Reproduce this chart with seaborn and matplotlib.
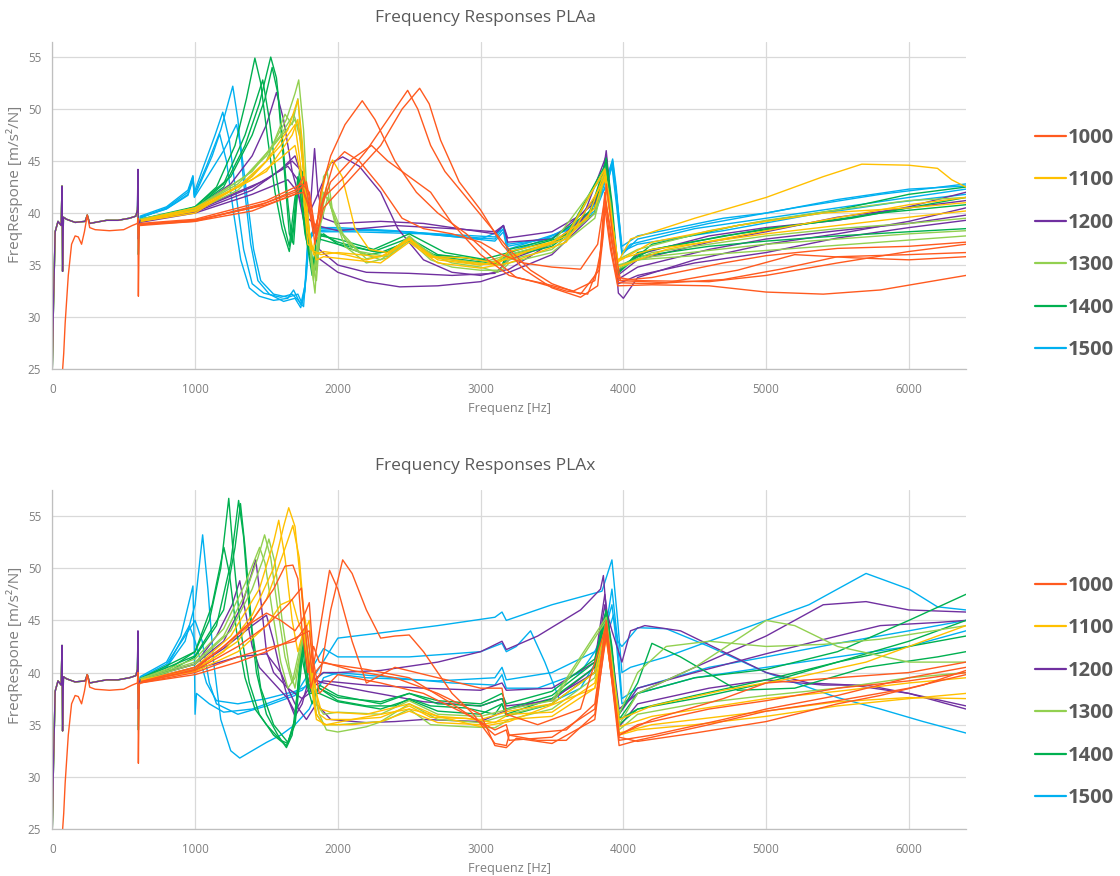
import matplotlib
matplotlib.use("Agg")
import matplotlib.pyplot as plt
from matplotlib.lines import Line2D
from matplotlib.font_manager import FontProperties
import pandas as pd
import seaborn as sns

# ---------------------------------------------------------------- data
speeds = ["1000", "1100", "1200", "1300", "1400", "1500"]
speed_colors = ["#FF5A1F", "#FFC000", "#7030A0", "#92D050", "#00B050", "#00B0F0"]
draw_order = ["1500", "1200", "1400", "1300", "1100", "1000"]
low_order = ["1500", "1400", "1300", "1100", "1200", "1000"]

x_ticks = [0, 1000, 2000, 3000, 4000, 5000, 6000]
y_ticks = [25, 30, 35, 40, 45, 50, 55]

# common low-frequency start (0-615 Hz); 600 Hz spike inserted per speed
low_freq = [0, 8, 20, 40, 62, 68, 72, 78, 100, 160, 230, 245, 262, 300, 380, 460,
            540, 585, 596, 600, 603, 609, 615]
low_resp_head = [25, 31, 38.2, 39.2, 38.8, 42.6, 34.4, 39.6, 39.4, 39.1, 39.2, 39.8,
                 39.0, 39.1, 39.3, 39.3, 39.5, 39.7, 40.3]
low_resp_tail = [39.0, 39.3]

# the 1000 runs start late
late_freq = [70, 80, 90, 112, 135, 160, 182, 205, 225, 245, 262, 300, 400, 500, 560,
             596, 600, 603, 609, 615]
late_resp_head = [24.5, 26.5, 29.4, 34.0, 37.0, 37.8, 37.7, 37.0, 38.2, 39.8, 38.6,
                  38.4, 38.3, 38.4, 38.8, 39.0]
late_resp_tail = [38.8, 39.0]

# 600 Hz resonance: (peak, trough)
plaa_spike = {"1000": (39.5, 32.0), "1100": (41.0, 38.0), "1200": (44.2, 37.5),
              "1300": (42.0, 38.0), "1400": (41.0, 36.0), "1500": (43.0, 39.0)}
plax_spike = {"1000": (40.0, 31.3), "1100": (41.5, 38.0), "1200": (44.0, 36.5),
              "1300": (42.5, 38.0), "1400": (43.5, 34.5), "1500": (42.5, 38.5)}

# ---------------- PLAa runs: (frequency Hz, response m/s²/N)
plaa_1000 = [
    [(615, 38.9), (1000, 39.2), (1400, 40.2), (1700, 41.8), (1780, 43), (1820, 40), (1850, 37.5),
     (1900, 41.5), (1970, 44.8), (2047, 45.9), (2150, 45), (2300, 42.5), (2450, 39.5), (2600, 38.5),
     (2800, 38), (3000, 37.2), (3150, 36), (3300, 35.2), (3500, 34.8), (3700, 34.6), (3820, 37),
     (3870, 41.5), (3910, 38.5), (3960, 33.8), (4100, 33.5), (4600, 33.4), (5000, 34), (5500, 35.2),
     (6000, 36.3), (6400, 37)],
    [(615, 38.9), (1000, 39.3), (1400, 40.5), (1700, 42), (1760, 43.5), (1800, 41), (1840, 37),
     (1880, 42), (1950, 45.5), (2050, 48.5), (2171, 50.8), (2260, 49), (2400, 45), (2550, 42),
     (2700, 40), (2900, 38), (3100, 35.5), (3250, 33.8), (3450, 33.2), (3650, 32.5), (3800, 33.5),
     (3850, 37), (3875, 41), (3910, 37), (3960, 33.3), (4200, 33.2), (4700, 33.6), (5100, 34.6),
     (5500, 35.8), (6000, 36), (6400, 36.2)],
    [(615, 38.8), (1000, 39.2), (1500, 41), (1750, 42.5), (1790, 41), (1830, 38), (1870, 40),
     (1950, 43), (2100, 45.2), (2236, 46.5), (2350, 45), (2500, 43.5), (2650, 42), (2800, 39),
     (3000, 36), (3200, 34), (3400, 33.3), (3600, 32.5), (3750, 32.2), (3830, 35), (3870, 40.5),
     (3910, 36.5), (3960, 33), (4200, 33.1), (4600, 33), (5000, 32.4), (5400, 32.2), (5800, 32.6),
     (6100, 33.3), (6400, 34)],
    [(615, 39), (1000, 39.4), (1500, 41.2), (1750, 42.8), (1800, 42), (1840, 38.5), (1900, 41.5),
     (2050, 43.5), (2200, 46), (2350, 49), (2489, 51.8), (2560, 50), (2650, 46.5), (2750, 44),
     (2900, 41.5), (3050, 39), (3200, 36.5), (3350, 34.5), (3500, 33.2), (3700, 32.2), (3830, 34.5),
     (3870, 42), (3920, 37), (3970, 33.5), (4200, 33.8), (4700, 35.2), (5000, 35.9), (5500, 36.6),
     (6000, 36.8), (6400, 37.2)],
    [(615, 38.9), (1000, 39.3), (1500, 40.8), (1700, 41.8), (1760, 42), (1810, 40), (1850, 37.8),
     (1900, 40.5), (2100, 43.5), (2300, 46.5), (2450, 50), (2573, 52), (2640, 50.5), (2720, 47),
     (2850, 43), (3000, 40.3), (3150, 37), (3300, 34.6), (3500, 32.8), (3700, 31.9), (3820, 33),
     (3860, 38), (3880, 42.8), (3930, 37.5), (3980, 33.5), (4300, 33.3), (4800, 34.5), (5200, 36),
     (5600, 35.7), (6000, 35.5), (6400, 35.8)],
]
plaa_1100 = [
    [(615, 39.3), (1000, 40.3), (1300, 42.5), (1500, 45), (1650, 48), (1720, 50.9), (1750, 47),
     (1790, 39), (1830, 36), (1900, 36.3), (2050, 36), (2200, 35.5), (2350, 36), (2500, 37.5),
     (2650, 35.8), (2900, 35.7), (3100, 35.2), (3200, 36.3), (3500, 37.2), (3750, 39.5), (3870, 44),
     (3910, 40.5), (3960, 35.2), (4050, 37.5), (4500, 39.5), (5000, 41.5), (5400, 43.5),
     (5670, 44.7), (6000, 44.6), (6200, 44.3), (6300, 43.2), (6400, 42.5)],
    [(615, 39.2), (1000, 40), (1400, 43.5), (1600, 46.5), (1700, 48.5), (1740, 44.5), (1790, 37),
     (1830, 36.5), (1880, 41.5), (1920, 44), (1963, 45.1), (2030, 43.5), (2120, 38.5), (2220, 36.5),
     (2350, 36.2), (2500, 37.6), (2650, 35.8), (2900, 35.3), (3100, 35), (3200, 35.8), (3600, 37.5),
     (3800, 40.5), (3870, 43.5), (3960, 35.5), (4200, 36.5), (5000, 38), (5500, 38.8), (6000, 39.6),
     (6400, 40.2)],
    [(615, 39.3), (1000, 40.5), (1400, 43.2), (1600, 45.3), (1700, 46.5), (1750, 43), (1800, 37.5),
     (1850, 35.5), (1900, 35.8), (2100, 35.5), (2300, 35.2), (2500, 37.2), (2700, 35.2),
     (3000, 34.7), (3200, 35.2), (3600, 37.2), (3870, 43.2), (3960, 34.8), (4300, 36.5),
     (5000, 38.3), (5600, 39.8), (6000, 40.8), (6400, 41.5)],
    [(615, 39.2), (1000, 40.2), (1500, 44), (1680, 47.5), (1720, 49), (1760, 44), (1810, 36.5),
     (1880, 36), (2000, 36.2), (2300, 35.8), (2500, 37.4), (2700, 35.5), (3000, 35), (3200, 35.6),
     (3600, 37.8), (3870, 44.2), (3960, 35.3), (4200, 37.2), (4800, 38.8), (5400, 40), (6000, 40.5),
     (6400, 41)],
]
plaa_1200 = [
    [(615, 39.3), (1000, 40.4), (1250, 42.8), (1400, 45.5), (1500, 48.5), (1570, 51.6), (1620, 49),
     (1680, 44), (1730, 41.5), (1780, 39.5), (1810, 41), (1837, 46.2), (1860, 42), (1900, 39.5),
     (2000, 39), (2300, 39.2), (2600, 39), (2900, 38.4), (3100, 38), (3160, 38.8), (3190, 37.6),
     (3500, 38.2), (3700, 39.8), (3840, 42), (3880, 46), (3920, 40), (3965, 32.3), (4000, 31.8),
     (4100, 33.8), (4500, 35.5), (5000, 37), (5500, 38), (6000, 39.2), (6400, 40.5)],
    [(615, 39.3), (1000, 40.1), (1400, 42.2), (1600, 44.2), (1700, 45.5), (1760, 43), (1800, 40),
     (1850, 41.5), (1950, 44.8), (2034, 45.4), (2150, 44.5), (2300, 42), (2420, 38.5), (2600, 35.5),
     (2800, 34.3), (3000, 34), (3200, 34.6), (3400, 36.3), (3700, 39), (3880, 45.5), (3920, 40),
     (3965, 33.2), (4100, 34), (4500, 35.2), (5000, 36.2), (5500, 37.6), (6000, 38.6), (6400, 39.3)],
    [(615, 39.1), (1000, 40), (1400, 41.8), (1650, 43.2), (1720, 42), (1780, 38), (1850, 35.8),
     (2000, 34.3), (2200, 33.4), (2434, 32.9), (2700, 33), (3000, 33.4), (3200, 34.3), (3500, 36),
     (3800, 40), (3880, 45), (3960, 34), (4100, 35.5), (4600, 37.2), (5000, 38.2), (5500, 39.6),
     (6000, 40.5), (6400, 41.2)],
    [(615, 39.2), (1000, 40.2), (1400, 42.5), (1650, 44.5), (1730, 43), (1790, 39.5), (1850, 38.8),
     (2000, 38.3), (2400, 38.8), (2800, 38.5), (3100, 38.2), (3160, 38.8), (3190, 37.2), (3500, 37.5),
     (3800, 41), (3880, 45.3), (3960, 34.3), (4100, 36), (4600, 37.8), (5000, 38.6), (5500, 39.3),
     (6000, 40.6), (6400, 42)],
    [(615, 39.2), (1000, 40.3), (1500, 43.2), (1680, 45), (1750, 44), (1800, 40.5), (1870, 36.5),
     (2000, 35), (2200, 34.3), (2500, 34.2), (2800, 34), (3100, 34.2), (3200, 35.5), (3500, 37),
     (3800, 40.5), (3880, 45.3), (3960, 33.6), (4100, 34.8), (4600, 36.5), (5000, 37.5),
     (5500, 38.3), (6000, 39), (6400, 39.8)],
]
plaa_1300 = [
    [(615, 39.4), (1000, 40.4), (1300, 42.8), (1500, 45.5), (1640, 49), (1700, 51.5), (1726, 52.8),
     (1760, 48), (1790, 40), (1815, 35), (1840, 32.3), (1865, 38), (1900, 43.5), (1925, 44),
     (1960, 40.5), (2050, 37.5), (2200, 35.6), (2350, 36), (2500, 37.8), (2650, 36), (2800, 35.2),
     (3000, 34.8), (3120, 34.3), (3200, 35.5), (3500, 36.5), (3800, 40), (3870, 44), (3910, 41),
     (3960, 34.6), (4100, 35.5), (4600, 36), (5000, 36.4), (5500, 36.9), (6000, 37.4), (6400, 37.8)],
    [(615, 39.3), (1000, 40.2), (1300, 42.2), (1500, 45), (1630, 49.5), (1680, 48.5), (1720, 51),
     (1750, 46), (1790, 39), (1830, 33.5), (1860, 37), (1900, 42), (1940, 41), (2050, 36.8),
     (2200, 35.2), (2350, 35.7), (2500, 37.4), (2650, 35.5), (2800, 34.8), (3000, 34.5),
     (3150, 34.5), (3200, 35.2), (3500, 36.2), (3800, 39.5), (3870, 43.5), (3960, 35), (4200, 35.8),
     (5000, 37), (5500, 37.5), (6000, 38), (6400, 38.3)],
    [(615, 39.4), (1000, 40.5), (1350, 43.5), (1550, 46.5), (1700, 49), (1740, 47), (1780, 41),
     (1830, 34), (1870, 38.5), (1920, 42.5), (1980, 39), (2100, 36.5), (2300, 35.5), (2500, 37.5),
     (2700, 35.7), (3000, 35), (3200, 35.8), (3500, 37), (3870, 43.8), (3960, 35.5), (4100, 36.5),
     (4600, 38.3), (5000, 39.3), (5500, 40.3), (6000, 41.2), (6400, 41.5)],
    [(615, 39.3), (1000, 40.3), (1400, 44), (1600, 47.5), (1690, 49.5), (1730, 48), (1770, 43),
     (1810, 36), (1850, 33.5), (1880, 39), (1930, 41.5), (2000, 38.5), (2150, 36.3), (2350, 35.8),
     (2500, 37.6), (2650, 35.8), (3000, 35.2), (3200, 36), (3600, 37.5), (3870, 44.3), (3960, 34.8),
     (4200, 36.2), (5000, 37.8), (5500, 38.5), (6000, 39), (6400, 39.5)],
]
plaa_1400 = [
    [(615, 39.4), (800, 39.8), (1000, 40.6), (1150, 42.5), (1280, 46.5), (1360, 51), (1419, 54.9),
     (1460, 52.5), (1510, 47), (1560, 42), (1610, 38.5), (1660, 36.3), (1690, 39), (1720, 43.5),
     (1745, 41), (1780, 37.5), (1820, 34), (1850, 37.5), (1900, 38), (2000, 37), (2200, 36),
     (2350, 36.3), (2500, 37.5), (2650, 36), (2900, 35.7), (3100, 35.2), (3200, 36), (3500, 37),
     (3750, 39.5), (3870, 44.5), (3900, 42), (3960, 34.5), (4100, 35.8), (4600, 36.8), (5000, 37.3),
     (5500, 37.8), (6000, 38.2), (6400, 38.5)],
    [(615, 39.4), (800, 39.9), (1000, 40.5), (1200, 42.5), (1350, 46.5), (1450, 50.5), (1530, 55),
     (1570, 53), (1610, 47.5), (1650, 41), (1680, 37.2), (1710, 41), (1735, 44.5), (1760, 40),
     (1800, 36.5), (1840, 34.5), (1880, 37.8), (2000, 37.5), (2250, 36.5), (2500, 38), (2750, 36.2),
     (3000, 35.6), (3150, 35), (3200, 36.5), (3500, 37.5), (3800, 40.5), (3880, 45.3), (3920, 41),
     (3965, 34.2), (4100, 36.2), (4700, 37.8), (5200, 38.8), (5800, 40), (6400, 40.8)],
    [(615, 39.3), (1000, 40.4), (1200, 42.8), (1350, 47.5), (1474, 52.8), (1520, 49), (1570, 43.5),
     (1620, 39), (1660, 36.8), (1700, 41.5), (1730, 43), (1770, 38), (1820, 35), (1870, 37.5),
     (2000, 37), (2300, 36.2), (2500, 37.3), (2700, 35.8), (3000, 35.3), (3150, 35), (3200, 35.8),
     (3500, 36.8), (3800, 40), (3870, 44), (3960, 34.8), (4200, 36.5), (5000, 38.5), (5600, 39.5),
     (6400, 41.5)],
    [(615, 39.4), (1000, 40.6), (1250, 43.5), (1400, 47.5), (1490, 51), (1540, 54), (1580, 51.5),
     (1620, 45), (1660, 38), (1690, 37), (1720, 42.5), (1750, 44), (1790, 38.5), (1830, 34.8),
     (1880, 38), (2000, 37.2), (2250, 36.3), (2500, 37.6), (2700, 36), (3000, 35.5), (3200, 36.2),
     (3600, 37.8), (3880, 44.8), (3960, 34.2), (4200, 37), (4800, 38.8), (5500, 40.3), (6000, 41.8),
     (6400, 42.5)],
]
plaa_1500 = [
    [(615, 39.6), (800, 40.4), (950, 41.8), (985, 43.4), (995, 41.6), (1050, 43.3), (1120, 45.5),
     (1172, 47.6), (1220, 45), (1270, 40), (1320, 35.5), (1380, 32.8), (1450, 32), (1550, 31.6),
     (1650, 31.8), (1690, 32.6), (1740, 31.2), (1770, 33), (1790, 37.5), (1830, 38.3), (2000, 38.4),
     (2500, 38.2), (2800, 37.8), (3100, 37.5), (3160, 38.5), (3190, 36.5), (3300, 37), (3600, 38.3),
     (3800, 40), (3900, 43.5), (3925, 45), (3950, 42), (3990, 36.2), (4050, 37), (4500, 38.5),
     (5000, 39.5), (5500, 40.5), (6000, 41.5), (6400, 42.3)],
    [(615, 39.7), (800, 40.6), (950, 42.2), (985, 43.6), (995, 42), (1060, 44.5), (1140, 47.5),
     (1194, 49.7), (1240, 47), (1290, 41.5), (1340, 36.5), (1400, 33.2), (1480, 32.3), (1600, 31.9),
     (1680, 32.2), (1730, 31.5), (1760, 31), (1790, 36.5), (1830, 38.6), (2000, 38.6), (2400, 38.3),
     (2900, 37.6), (3100, 37.3), (3160, 38.2), (3190, 36.2), (3400, 37.2), (3700, 39), (3880, 42.5),
     (3920, 44.5), (3950, 41), (3990, 36), (4100, 37.5), (4600, 39), (5200, 40.5), (5800, 41.8),
     (6400, 42.8)],
    [(615, 39.5), (800, 40.5), (950, 42), (985, 43.5), (995, 41.8), (1080, 44.5), (1180, 48),
     (1264, 52.2), (1300, 49), (1340, 43), (1390, 37), (1440, 33.5), (1520, 32.2), (1620, 31.5),
     (1700, 31.8), (1740, 30.9), (1770, 32.5), (1790, 37.2), (1840, 38.2), (2100, 38.2), (2600, 38),
     (3000, 37.5), (3160, 38.4), (3190, 36.8), (3450, 37.5), (3750, 39.5), (3900, 44), (3925, 45.2),
     (3950, 42.5), (3990, 36.3), (4100, 37), (4700, 38.3), (5300, 39.8), (5900, 41), (6400, 41.8)],
    [(615, 39.6), (800, 40.4), (950, 41.7), (985, 43.2), (995, 41.5), (1100, 43.8), (1200, 46),
     (1290, 48.5), (1320, 46.5), (1360, 42), (1410, 36.5), (1460, 33.5), (1550, 32.2), (1650, 31.9),
     (1720, 32.2), (1750, 31.3), (1780, 34), (1800, 37.8), (1850, 38.5), (2200, 38.4), (2700, 38),
     (3100, 37.7), (3160, 38.8), (3190, 37), (3500, 37.6), (3800, 40.2), (3920, 44.8), (3950, 42),
     (3990, 36.8), (4100, 37.8), (4700, 39.5), (5000, 40), (5500, 41.3), (6000, 42.3), (6400, 42.6)],
]

# ---------------- PLAx runs
plax_1000 = [
    [(615, 39), (1000, 39.8), (1300, 41), (1500, 42), (1700, 43.3), (1800, 44), (1840, 39),
     (1880, 40), (1950, 46), (2034, 50.8), (2100, 49.5), (2200, 46), (2300, 43.3), (2400, 43.5),
     (2500, 43.6), (2600, 42), (2700, 40), (2800, 38), (2950, 36), (3100, 33.2), (3180, 33),
     (3200, 34), (3400, 33.5), (3600, 33.5), (3800, 36), (3880, 43.5), (3970, 33.8), (4100, 33.4),
     (4500, 34.2), (5000, 35.3), (5500, 37), (5800, 37.8), (6100, 38.8), (6400, 40.2)],
    [(615, 39), (1000, 40), (1300, 41.5), (1550, 42.5), (1700, 43), (1780, 44.5), (1820, 40),
     (1860, 43), (1942, 49.8), (2000, 48), (2100, 43), (2200, 39), (2400, 40.5), (2700, 39.5),
     (3000, 38.5), (3150, 38.5), (3180, 36), (3400, 35), (3700, 36.5), (3880, 44.5), (3970, 34),
     (4100, 35), (4600, 36.5), (5000, 37.3), (5500, 38.5), (6000, 39.2), (6400, 40)],
    [(615, 39.1), (1000, 40.5), (1200, 42.5), (1400, 45), (1550, 48), (1630, 50.2), (1685, 50.3),
     (1720, 49), (1750, 44), (1790, 40), (1830, 42.5), (1870, 41), (1950, 40.8), (2200, 40.3),
     (2500, 39.5), (2800, 37), (3000, 35.2), (3100, 34), (3180, 34.5), (3200, 33.5), (3500, 33.8),
     (3800, 36.5), (3880, 45), (3970, 33.5), (4200, 34), (4700, 35.5), (5000, 36.5), (5500, 37.8),
     (6000, 39.5), (6400, 40.5)],
    [(615, 39.1), (1000, 40.2), (1300, 42.5), (1500, 44.5), (1650, 46.5), (1745, 48.1), (1780, 43),
     (1810, 38.5), (1840, 40), (1900, 41), (2100, 40.2), (2400, 39.5), (2700, 38), (3000, 36),
     (3100, 33), (3180, 32.8), (3250, 33.7), (3500, 33.2), (3800, 35.5), (3880, 44), (3970, 33),
     (4100, 33.5), (4600, 35), (5000, 36.3), (5500, 37.3), (6000, 38.5), (6400, 39.8)],
    [(615, 39), (1000, 40.3), (1200, 42.5), (1400, 44.8), (1500, 45.7), (1600, 45), (1700, 44),
     (1750, 45), (1800, 46.7), (1830, 41), (1870, 38), (2000, 39.8), (2300, 39), (2600, 38),
     (2900, 36), (3100, 34.5), (3180, 35), (3200, 34), (3600, 34.5), (3800, 37), (3880, 44.8),
     (3970, 34), (4200, 35.5), (4700, 37.5), (5000, 39), (5500, 39.5), (6000, 40), (6400, 41)],
]
plax_1100 = [
    [(615, 39.2), (1000, 40.3), (1200, 42), (1400, 45.5), (1550, 50), (1620, 54), (1656, 55.8),
     (1700, 54), (1740, 48.5), (1770, 44), (1800, 45), (1830, 40), (1870, 36), (1920, 35.5),
     (2100, 35.5), (2300, 35.7), (2500, 36.8), (2650, 35.7), (2900, 35.6), (3100, 35.2), (3200, 36),
     (3500, 36.2), (3800, 39), (3880, 44), (3970, 34), (4100, 34.5), (4500, 35), (5000, 35.8),
     (5500, 36.8), (6000, 37.5), (6400, 38)],
    [(615, 39.2), (1000, 40.5), (1250, 43.5), (1450, 48), (1550, 52.5), (1586, 54.6), (1630, 51),
     (1680, 45), (1720, 42), (1760, 44), (1800, 41), (1850, 36), (1900, 35), (2100, 35),
     (2300, 35.3), (2500, 36.3), (2700, 35.2), (3000, 35), (3200, 35.5), (3500, 35.8), (3800, 38.5),
     (3880, 43.2), (3970, 34.8), (4200, 35.8), (5000, 37.5), (5500, 38.2), (6000, 39), (6400, 39.5)],
    [(615, 39.3), (1000, 40.2), (1300, 43), (1500, 47), (1620, 51.5), (1685, 54.1), (1730, 51),
     (1760, 46), (1790, 43.5), (1830, 39), (1880, 36.5), (1950, 36.2), (2200, 36), (2500, 37),
     (2700, 35.8), (3000, 35.5), (3200, 36.3), (3500, 37), (3800, 40), (3880, 44.8), (3970, 35.5),
     (4200, 36.8), (4700, 38.3), (5200, 39.5), (5700, 41), (6000, 42.5), (6400, 44.5)],
    [(615, 39.2), (1000, 40.1), (1300, 42), (1500, 44.5), (1600, 46.5), (1680, 47), (1720, 45),
     (1760, 43.5), (1800, 40), (1850, 35.5), (1920, 35), (2100, 35.5), (2500, 36.5), (3000, 34.8),
     (3200, 35.3), (3800, 38.5), (3880, 43.5), (3970, 34.2), (4200, 35), (5000, 36.3), (5500, 37.2),
     (6000, 37.6), (6400, 37.5)],
]
plax_1200 = [
    [(615, 39.4), (1000, 40.8), (1200, 43), (1330, 46.5), (1425, 50.8), (1460, 47), (1500, 42),
     (1550, 40), (1650, 38.5), (1750, 37.5), (1800, 38), (1850, 39.5), (1900, 40), (2000, 40),
     (2300, 40.2), (2700, 41), (3000, 42), (3150, 43), (3180, 42.2), (3400, 43.5), (3700, 46),
     (3840, 48), (3860, 49.3), (3880, 46), (3920, 44), (3990, 41), (4050, 44), (4150, 44.5),
     (4400, 44), (4700, 42), (5000, 40), (5300, 39), (5600, 38.8), (6000, 38), (6400, 36.8)],
    [(615, 39.3), (1000, 40.8), (1150, 43.5), (1260, 46.5), (1313, 48.8), (1350, 46), (1400, 42.5),
     (1450, 40.5), (1550, 39), (1650, 37.5), (1700, 36.2), (1750, 37.5), (1800, 38.5), (1900, 39.2),
     (2200, 38.8), (2600, 38.5), (3000, 38.3), (3150, 39), (3180, 38.3), (3500, 38.5), (3800, 41),
     (3870, 47.5), (3920, 42), (3970, 36.5), (4100, 38), (4500, 40.5), (5000, 43.5), (5400, 46.5),
     (5700, 46.8), (6000, 46), (6400, 45.8)],
    [(615, 39.2), (1000, 40.5), (1200, 42.3), (1400, 44.5), (1500, 45.5), (1550, 43), (1600, 40),
     (1650, 37.5), (1700, 35.8), (1750, 37), (1800, 39.5), (1900, 39), (2200, 38.2), (2600, 37.2),
     (3000, 36.8), (3150, 37.5), (3180, 36.8), (3500, 37.3), (3800, 40.5), (3870, 46.5), (3970, 36),
     (4100, 38.5), (4500, 40), (5000, 41.8), (5500, 43.5), (5800, 44.5), (6200, 44.8), (6400, 45)],
    [(615, 39.2), (1000, 40.3), (1300, 41.5), (1500, 41.8), (1600, 40), (1700, 37), (1780, 35.5),
     (1850, 37), (1950, 35.5), (2200, 35.2), (2400, 35.3), (2600, 35.5), (3000, 35.3), (3200, 36.5),
     (3500, 37.5), (3800, 40), (3870, 45.5), (3970, 34.8), (4100, 37), (4600, 38.5), (5000, 39.3),
     (5400, 38.8), (5700, 38.8), (6000, 38), (6400, 36.5)],
]
plax_1300 = [
    [(615, 39.4), (1000, 41), (1200, 43.5), (1350, 47.5), (1440, 51), (1487, 53.2), (1530, 51),
     (1580, 46), (1630, 41.5), (1680, 39), (1720, 41.5), (1760, 44), (1790, 42), (1830, 38),
     (1870, 36), (1920, 34.5), (2000, 34.3), (2200, 34.8), (2350, 35.5), (2500, 36.5), (2650, 35),
     (2900, 34.8), (3100, 34.7), (3200, 35.5), (3500, 36.5), (3800, 39.5), (3880, 44.5), (3970, 34.5),
     (4100, 36), (4500, 37), (5000, 37.8), (5500, 38.5), (6000, 39.5), (6400, 40)],
    [(615, 39.3), (1000, 40.8), (1250, 44), (1400, 48), (1480, 51), (1517, 52.8), (1560, 50.5),
     (1610, 45), (1660, 40.5), (1700, 38.5), (1740, 42), (1770, 44.5), (1800, 40), (1850, 36),
     (1900, 35), (2000, 35), (2300, 35.3), (2500, 37), (2700, 35.5), (3000, 35.2), (3200, 36),
     (3500, 37), (3880, 45), (3970, 35), (4100, 38), (4500, 40.5), (5000, 45), (5200, 44.5),
     (5500, 42.5), (6000, 41), (6400, 41)],
    [(615, 39.4), (1000, 41.3), (1200, 44.2), (1350, 48.5), (1452, 52), (1490, 50.5), (1540, 46),
     (1600, 41), (1650, 38.5), (1700, 39.5), (1760, 43.5), (1800, 41), (1850, 37), (1900, 36),
     (2000, 36.2), (2300, 36), (2500, 37.3), (2700, 36), (3000, 35.8), (3200, 36.5), (3500, 37.3),
     (3880, 45.3), (3970, 36), (4100, 40), (4300, 42.5), (4600, 43), (5000, 42.5), (5400, 42.7),
     (5800, 43.2), (6400, 44.5)],
]
plax_1400 = [
    [(615, 39.4), (800, 40.2), (1000, 42), (1100, 45), (1180, 50), (1236, 56.7), (1270, 51),
     (1320, 44), (1380, 39), (1450, 36), (1550, 34), (1640, 33), (1700, 35), (1740, 40), (1760, 43),
     (1790, 39), (1830, 38), (1870, 38.5), (2000, 37.3), (2200, 36.8), (2400, 36.8), (2500, 37.5),
     (2650, 36.8), (2900, 36.6), (3100, 36), (3150, 37), (3180, 36), (3500, 37.5), (3800, 40.5),
     (3880, 45.5), (3920, 42), (3970, 35.5), (4100, 36.5), (4500, 37.5), (5000, 39), (5500, 41),
     (6000, 43), (6400, 45)],
    [(615, 39.3), (800, 40), (1000, 41.5), (1150, 44.5), (1250, 50.5), (1305, 56.5), (1340, 53),
     (1380, 46), (1430, 40), (1500, 36), (1580, 34), (1640, 32.8), (1680, 34), (1720, 38.5),
     (1750, 43), (1780, 39), (1820, 37), (1870, 38.8), (2000, 37.8), (2300, 37), (2500, 38),
     (2700, 37), (3000, 36.8), (3150, 37.5), (3180, 36.5), (3500, 37.8), (3800, 41), (3880, 46),
     (3920, 42.5), (3970, 35), (4100, 36.5), (4500, 37.8), (5000, 39.3), (5500, 41), (6000, 42.5),
     (6400, 43.5)],
    [(615, 39.4), (1000, 41.6), (1200, 46), (1280, 52), (1318, 56.2), (1350, 52), (1400, 44),
     (1460, 38.5), (1550, 35), (1650, 33.3), (1700, 35.5), (1740, 41), (1770, 42.5), (1800, 38),
     (1870, 38), (2000, 37.2), (2300, 36.5), (2500, 37.4), (2700, 36.3), (3000, 36), (3150, 37),
     (3180, 35.8), (3500, 37), (3800, 40), (3880, 45), (3970, 36), (4100, 39), (4200, 42.8),
     (4400, 41.5), (4800, 38.3), (5200, 38.5), (5700, 40.5), (6200, 41.5), (6400, 42)],
    [(615, 39.4), (1000, 42), (1120, 46.5), (1202, 52), (1240, 49.5), (1290, 44), (1350, 39.5),
     (1420, 36.5), (1500, 35), (1600, 33.5), (1650, 33.2), (1700, 35.5), (1740, 42), (1770, 40),
     (1820, 38), (1870, 38.5), (2000, 37.6), (2300, 37.2), (2500, 38), (2700, 37.3), (3000, 37),
     (3150, 38), (3180, 37), (3500, 38.2), (3800, 41.3), (3880, 46), (3970, 35.5), (4100, 38),
     (4500, 39.5), (5000, 40.3), (5500, 42), (6000, 45), (6400, 47.5)],
]
plax_1500 = [
    [(615, 39.5), (800, 40.5), (930, 43), (1000, 46.5), (1053, 53.2), (1090, 48), (1130, 41),
     (1180, 35.5), (1250, 32.5), (1313, 31.8), (1400, 32.5), (1500, 33.3), (1600, 34), (1700, 35),
     (1800, 36.5), (1850, 38), (1900, 39.5), (2000, 40), (2400, 39.5), (2800, 39), (3100, 38.8),
     (3150, 39.8), (3180, 38.5), (3400, 38.5), (3700, 40), (3850, 43), (3920, 46.5), (3950, 43),
     (3990, 37), (4100, 38), (4500, 39.5), (5000, 40.5), (5500, 41.5), (6000, 42.5), (6400, 44)],
    [(615, 39.6), (800, 41), (900, 43.5), (985, 48.3), (995, 42), (1000, 36), (1010, 38),
     (1100, 37), (1200, 36.2), (1400, 36.5), (1600, 37.5), (1750, 38.3), (1850, 40), (2000, 43.3),
     (2300, 43.8), (2700, 44.5), (3100, 45.3), (3150, 45.8), (3180, 45), (3500, 46.5), (3850, 47.8),
     (3920, 50.8), (3960, 45), (3990, 40), (4050, 40.5), (4300, 41.5), (4800, 44), (5300, 46.5),
     (5700, 49.5), (6000, 48), (6200, 46.3), (6400, 46)],
    [(615, 39.5), (800, 40.8), (930, 43.5), (1000, 45), (1050, 43), (1100, 39), (1150, 37),
     (1300, 36), (1500, 36.8), (1700, 37.8), (1800, 40), (1900, 42.3), (2000, 41.5), (2500, 41.5),
     (3000, 42), (3150, 42.8), (3180, 42), (3250, 42.5), (3350, 44), (3450, 41), (3550, 37.5),
     (3700, 38.5), (3850, 42), (3930, 45.5), (3960, 43), (3990, 42.5), (4100, 44.3), (4300, 44.2),
     (4600, 42.5), (5000, 40), (5500, 37.6), (5800, 36.5), (6100, 35.3), (6400, 34.2)],
    [(615, 39.5), (800, 40.5), (920, 43.5), (960, 44.5), (1000, 43), (1080, 39), (1150, 37.3),
     (1300, 37), (1500, 37.5), (1700, 38.2), (1800, 38.8), (1900, 40), (2200, 39.5), (2700, 39.2),
     (3100, 39.5), (3150, 40.5), (3180, 39.3), (3500, 40), (3800, 42), (3880, 44.5), (3920, 48),
     (3960, 43), (3990, 37.5), (4100, 38.5), (4600, 40.5), (5000, 41.5), (5500, 42.8), (6000, 44),
     (6400, 45)],
]

plaa_runs = dict(zip(speeds, [plaa_1000, plaa_1100, plaa_1200, plaa_1300, plaa_1400, plaa_1500]))
plax_runs = dict(zip(speeds, [plax_1000, plax_1100, plax_1200, plax_1300, plax_1400, plax_1500]))


def run_frame(runs):
    rows = []
    for speed, curves in runs.items():
        for i, pts in enumerate(curves):
            for f, v in pts:
                rows.append((speed, f"{speed}-{i}", f, v))
    return pd.DataFrame(rows, columns=["speed", "run", "freq", "resp"])


def low_frame(spikes):
    rows = []
    for speed in speeds:
        peak, trough = spikes[speed]
        if speed == "1000":
            fr, rs = late_freq, late_resp_head + [peak, trough] + late_resp_tail
        else:
            fr, rs = low_freq, low_resp_head + [peak, trough] + low_resp_tail
        for f, v in zip(fr, rs):
            rows.append((speed, f"{speed}-low", f, v))
    return pd.DataFrame(rows, columns=["speed", "run", "freq", "resp"])


# ---------------------------------------------------------------- figure
sns.set_theme(style="whitegrid")
plt.rcParams["font.family"] = ["Open Sans", "DejaVu Sans"]

W, H = 1120, 876
fig = plt.figure(figsize=(W / 100, H / 100), dpi=100)
palette = dict(zip(speeds, speed_colors))
grey_text = "#7F7F7F"
dark_text = "#595959"

panels = [
    ("Frequency Responses PLAa", plaa_runs, plaa_spike, (42, 369), 56.45, 0.566),
    ("Frequency Responses PLAx", plax_runs, plax_spike, (490, 829), 57.5, 0.543),
]

for title, runs, spikes, (top_px, bot_px), y_top, ylab_y in panels:
    ax = fig.add_axes([52.3 / W, 1 - bot_px / H, (966 - 52.3) / W, (bot_px - top_px) / H])
    sns.lineplot(data=run_frame(runs), x="freq", y="resp", hue="speed", units="run",
                 estimator=None, sort=False, palette=palette, hue_order=draw_order,
                 linewidth=1.0, legend=False, ax=ax)
    sns.lineplot(data=low_frame(spikes), x="freq", y="resp", hue="speed", units="run",
                 estimator=None, sort=False, palette=palette, hue_order=low_order,
                 linewidth=1.0, legend=False, ax=ax)

    ax.set_xlim(0, 6400)
    ax.set_ylim(25, y_top)
    ax.set_xticks(x_ticks)
    ax.set_yticks(y_ticks)
    ax.grid(True, color="#D9D9D9", linewidth=0.9)
    for side in ("top", "right"):
        ax.spines[side].set_visible(False)
    for side in ("left", "bottom"):
        ax.spines[side].set_color("#BFBFBF")
        ax.spines[side].set_linewidth(0.9)
    ax.tick_params(axis="both", length=0, labelsize=8.4, labelcolor=grey_text)
    ax.tick_params(axis="x", pad=10)
    ax.tick_params(axis="y", pad=8)
    ax.set_xlabel("Frequenz [Hz]", fontsize=9.2, color=grey_text)
    ax.set_ylabel("FreqRespone [m/s²/N]", fontsize=11, color=grey_text)
    h_px = bot_px - top_px
    ax.xaxis.set_label_coords(0.5, -33 / h_px)
    ax.yaxis.set_label_coords(-29 / 913.7, ylab_y)

    fig.text(485 / W, 1 - (top_px - 24) / H, title, ha="center", va="center",
             fontsize=12.5, color=dark_text)

    handles = [Line2D([], [], color=c, linewidth=1.6) for c in speed_colors]
    ax.legend(handles, speeds, loc="center left",
              bbox_to_anchor=(1035 / W, 1 - (top_px + 202) / H),
              bbox_transform=fig.transFigure, frameon=False, borderpad=0,
              borderaxespad=0, handlelength=1.55, handletextpad=0.1, labelspacing=1.12,
              prop=FontProperties(family="Open Sans", weight="bold", size=14.5),
              labelcolor=dark_text)

fig.savefig("out.png", dpi=100, facecolor="white")
